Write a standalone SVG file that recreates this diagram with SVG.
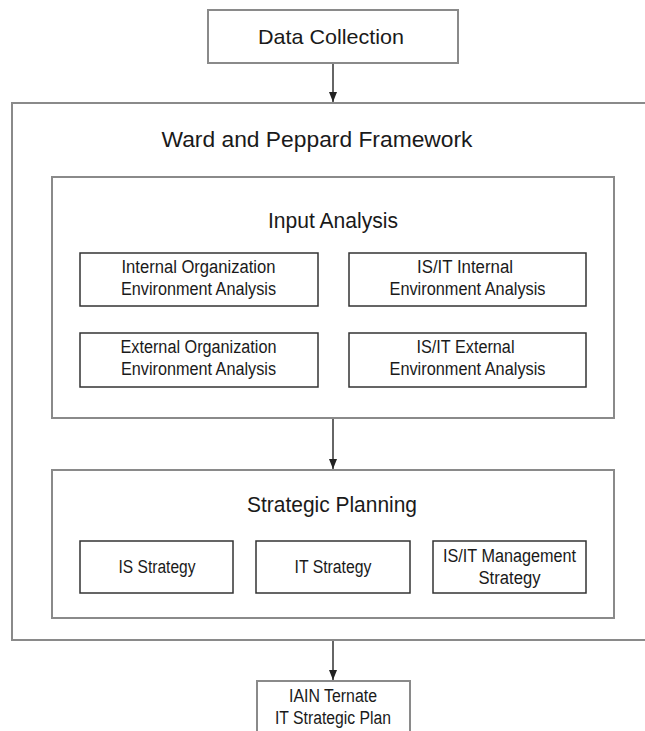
<svg xmlns="http://www.w3.org/2000/svg" width="645" height="731" viewBox="0 0 645 731">
<style>
text{font-family:"Liberation Sans Narrow","Liberation Sans",Arial,sans-serif;fill:#1a1a1a;text-anchor:middle}
.t{font-size:22px}
.s{font-size:18px}
.frame{fill:none;stroke:#8a8a8a;stroke-width:2}
.box{fill:#fff;stroke:#333;stroke-width:1.5}
.gbox{fill:#fff;stroke:#8a8a8a;stroke-width:2}
.conn{stroke:#333;stroke-width:1.5;fill:none;marker-end:url(#arr)}
</style>
<defs>
<marker id="arr" viewBox="0 0 10 10" refX="10" refY="5" markerWidth="10" markerHeight="10" markerUnits="userSpaceOnUse" orient="auto">
<path d="M0,1 L10,5 L0,9 Z" fill="#222"/>
</marker>
</defs>
<g id="framework">
<rect class="frame" x="12" y="103" width="650" height="537"/>
<text class="t" x="317" y="147" textLength="311" lengthAdjust="spacingAndGlyphs">Ward and Peppard Framework</text>
</g>
<g id="data-collection">
<rect class="gbox" x="208" y="10" width="250" height="53"/>
<text class="s" style="font-size:21px" x="331" y="44" textLength="146" lengthAdjust="spacingAndGlyphs">Data Collection</text>
</g>
<g id="input-analysis">
<rect class="frame" x="52" y="177" width="562" height="241"/>
<text class="t" x="333" y="228" textLength="130" lengthAdjust="spacingAndGlyphs">Input Analysis</text>
</g>
<g id="internal-org">
<rect class="box" x="80" y="253" width="238" height="53"/>
<text class="s" x="198.5" y="273" textLength="154" lengthAdjust="spacingAndGlyphs">Internal Organization</text>
<text class="s" x="198.5" y="295" textLength="155" lengthAdjust="spacingAndGlyphs">Environment Analysis</text>
</g>
<g id="isit-internal">
<rect class="box" x="349" y="253" width="237" height="53"/>
<text class="s" x="465" y="273" textLength="96" lengthAdjust="spacingAndGlyphs">IS/IT Internal</text>
<text class="s" x="467.5" y="295" textLength="156" lengthAdjust="spacingAndGlyphs">Environment Analysis</text>
</g>
<g id="external-org">
<rect class="box" x="80" y="333" width="238" height="54"/>
<text class="s" x="198.5" y="353" textLength="156" lengthAdjust="spacingAndGlyphs">External Organization</text>
<text class="s" x="198.5" y="375" textLength="155" lengthAdjust="spacingAndGlyphs">Environment Analysis</text>
</g>
<g id="isit-external">
<rect class="box" x="349" y="333" width="237" height="54"/>
<text class="s" x="465.5" y="353" textLength="98" lengthAdjust="spacingAndGlyphs">IS/IT External</text>
<text class="s" x="467.5" y="375" textLength="156" lengthAdjust="spacingAndGlyphs">Environment Analysis</text>
</g>
<g id="strategic-planning">
<rect class="frame" x="52" y="470" width="562" height="148"/>
<text class="t" x="332" y="512" textLength="170" lengthAdjust="spacingAndGlyphs">Strategic Planning</text>
</g>
<g id="is-strategy">
<rect class="box" x="80" y="541" width="153" height="52"/>
<text class="s" x="157" y="573" textLength="77" lengthAdjust="spacingAndGlyphs">IS Strategy</text>
</g>
<g id="it-strategy">
<rect class="box" x="256" y="541" width="154" height="52"/>
<text class="s" x="333" y="573" textLength="77" lengthAdjust="spacingAndGlyphs">IT Strategy</text>
</g>
<g id="isit-management">
<rect class="box" x="433" y="541" width="153" height="52"/>
<text class="s" x="509.5" y="562" textLength="133" lengthAdjust="spacingAndGlyphs">IS/IT Management</text>
<text class="s" x="509.5" y="584" textLength="62" lengthAdjust="spacingAndGlyphs">Strategy</text>
</g>
<g id="it-strategic-plan">
<rect class="gbox" x="257" y="681" width="153" height="60"/>
<text class="s" x="333" y="702" textLength="88" lengthAdjust="spacingAndGlyphs">IAIN Ternate</text>
<text class="s" x="333" y="724" textLength="116" lengthAdjust="spacingAndGlyphs">IT Strategic Plan</text>
</g>
<g id="connectors">
<line class="conn" x1="333" y1="64" x2="333" y2="102"/>
<line class="conn" x1="333" y1="419" x2="333" y2="469"/>
<line class="conn" x1="333" y1="641" x2="333" y2="680"/>
</g>
</svg>
